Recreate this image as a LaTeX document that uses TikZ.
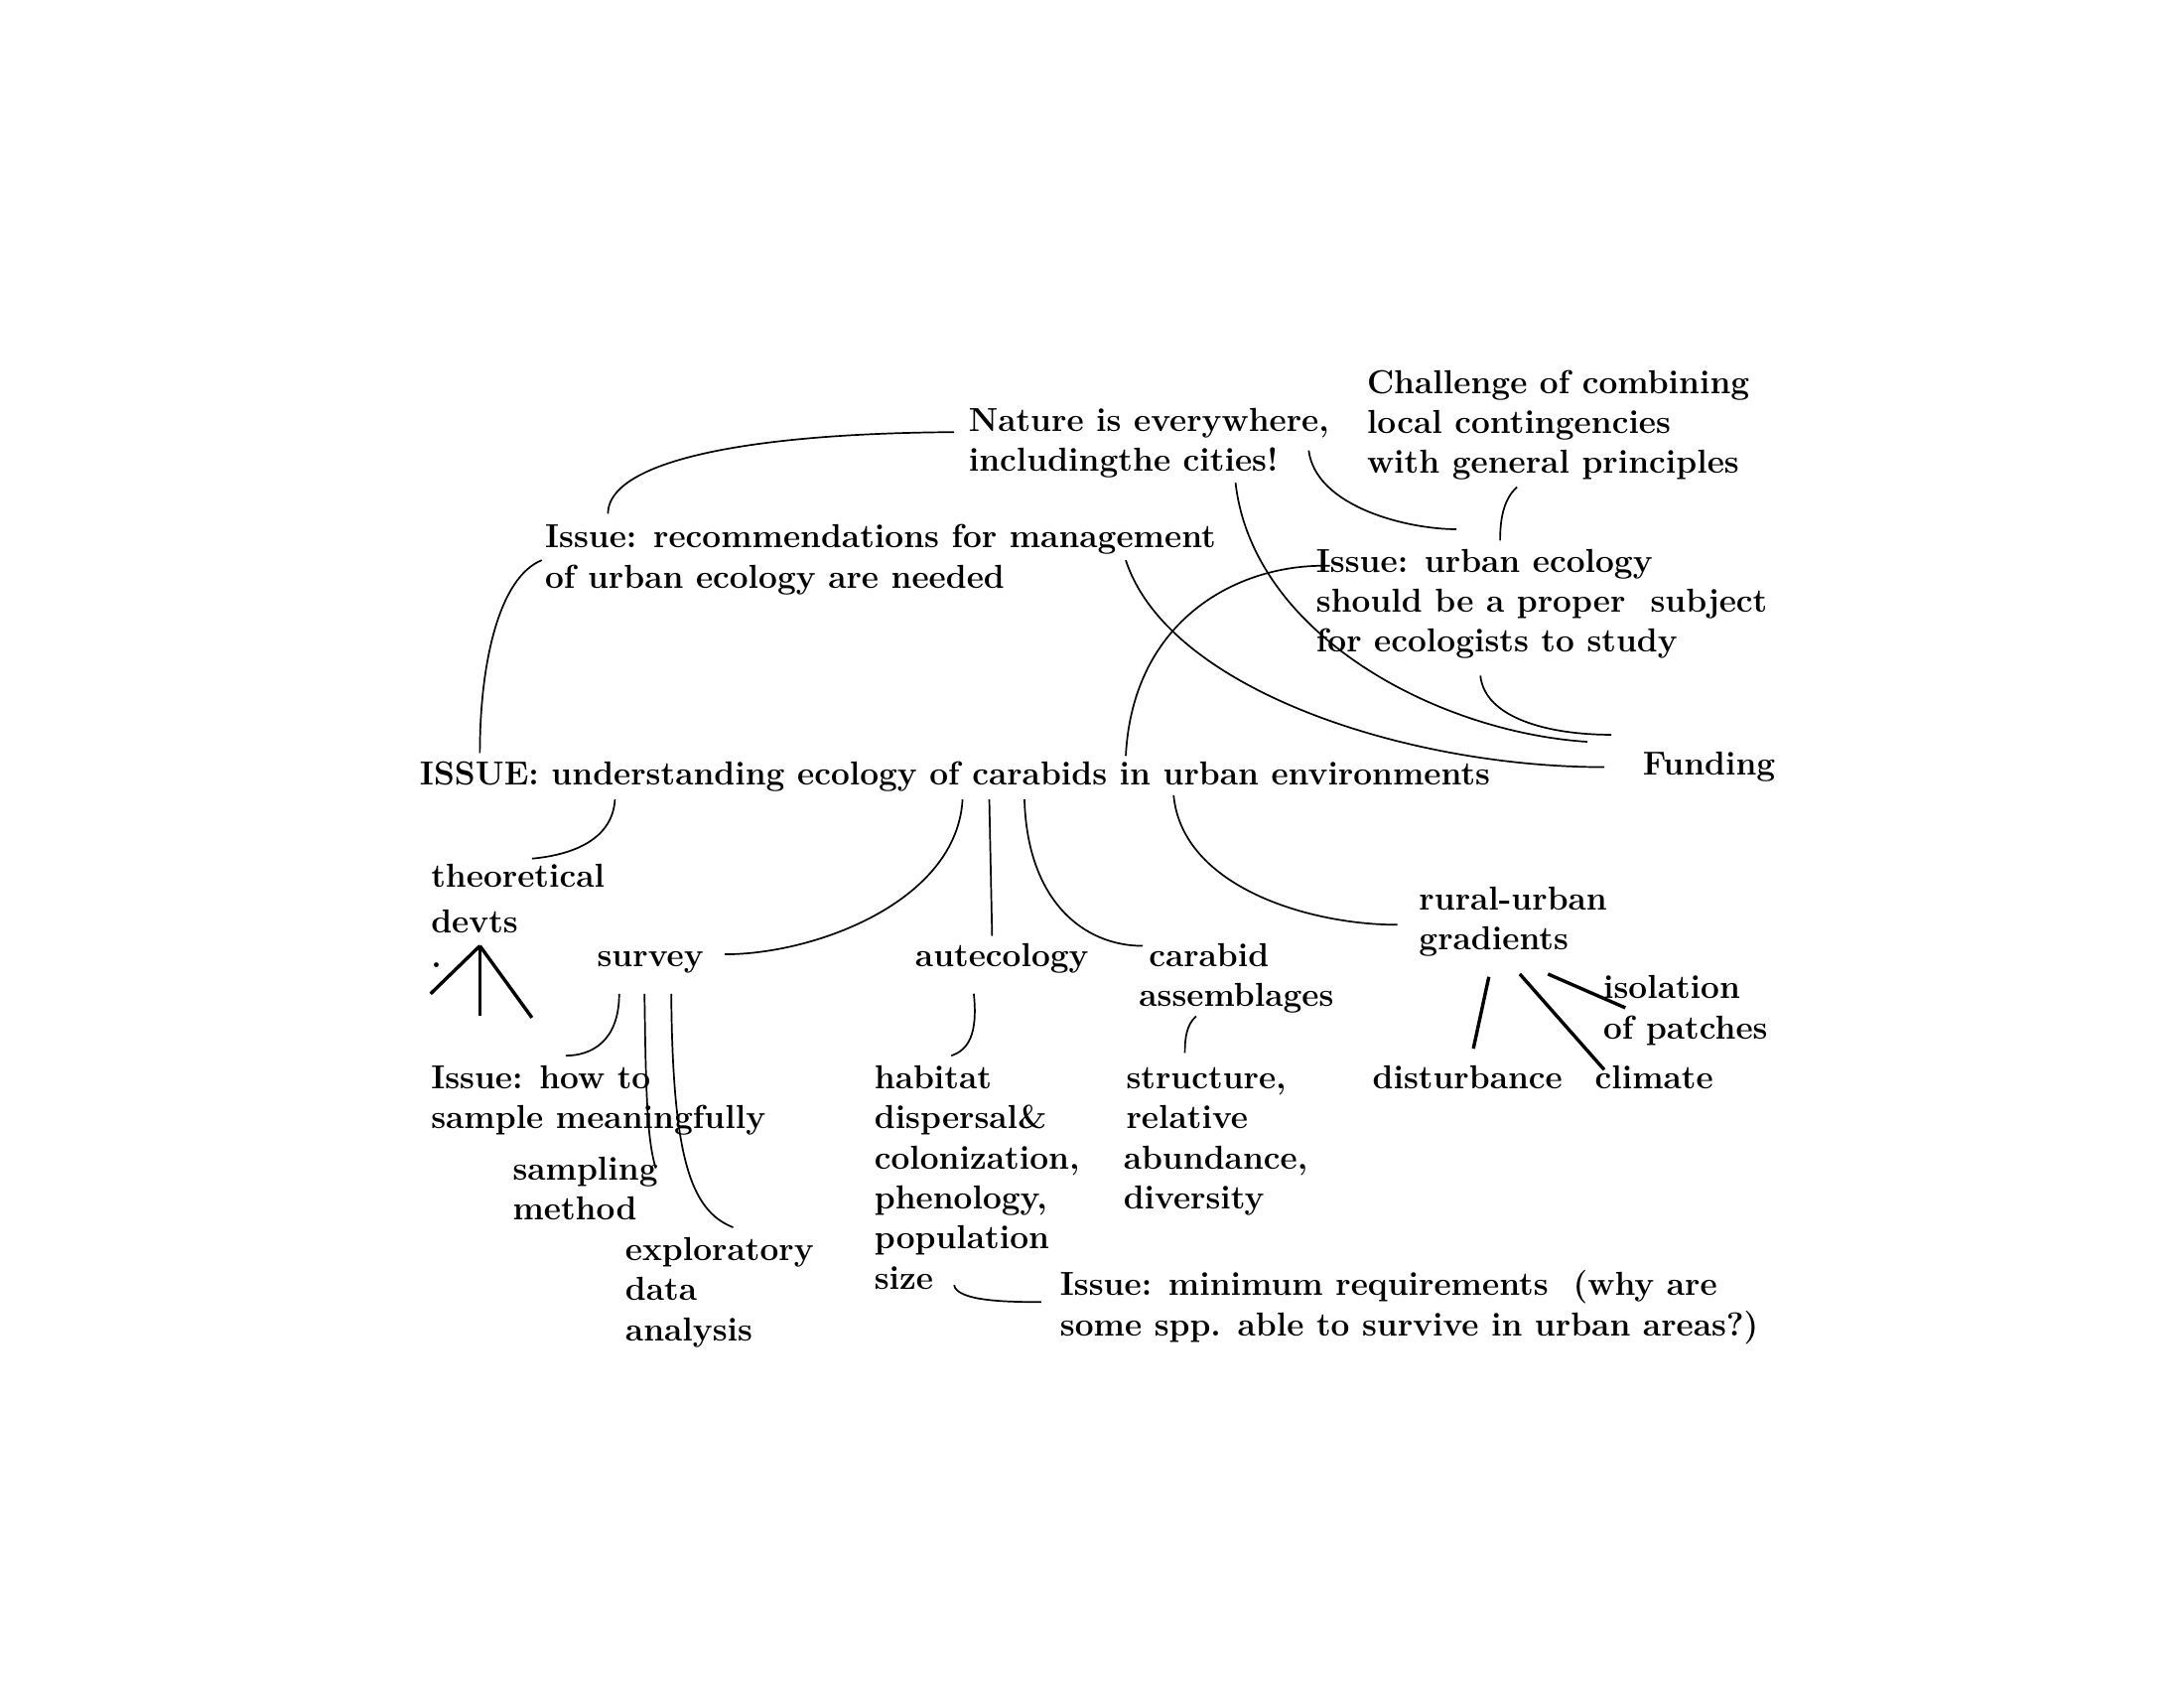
\documentclass[tikz,border=0pt]{standalone}
\begin{document}
\begin{tikzpicture}[x=0.5pt,y=-0.5pt,
  lbl/.style={anchor=north west,yshift=9.975pt,align=left,inner sep=0pt,font=\fontsize{11.8}{14.25}\selectfont\bfseries},
  ln/.style={line width=0.6pt},
  tk/.style={line width=1.2pt}]
\useasboundingbox (0,0) rectangle (1552,1200);
\node[lbl] (nat) at (688,306) {\strut Nature is everywhere,\\includingthe cities!};
\node[lbl] (chal) at (971,279) {\strut Challenge of combining\\local contingencies\\with general principles};
\node[lbl] (rec) at (387,389) {\strut Issue: recommendations for management\\of urban ecology are needed};
\node[lbl] (urb) at (935,406) {\strut Issue: urban ecology\\should be a proper\ \ subject\\for ecologists to study};
\node[lbl] (iss) at (298,557) {\strut ISSUE: understanding ecology of carabids in urban environments};
\node[lbl] (fund) at (1167,550) {\strut Funding};
\node[lbl] (theo) at (306,630) {\strut theoretical\\[2pt]devts\\[-2pt].};
\node[lbl] (surv) at (424,686) {\strut survey};
\node[lbl] (aut) at (650,686) {\strut autecology};
\node[lbl] (carab) at (809,686) {\strut\hspace*{3.5pt}carabid\\assemblages};
\node[lbl] (rur) at (1008,646) {\strut rural-urban\\gradients};
\node[lbl] (iso) at (1139,709) {\strut isolation\\of patches};
\node[lbl] (dist) at (975,773) {\strut disturbance};
\node[lbl] (clim) at (1133,773) {\strut climate};
\node[lbl] (how) at (306,773) {\strut Issue: how to\\sample meaningfully};
\node[lbl] (samp) at (364,838) {\strut sampling\\method};
\node[lbl] (expl) at (444,895) {\strut exploratory\\data\\analysis};
\node[lbl] (hab) at (621,773) {\strut habitat\\dispersal\&\\colonization,\\phenology,\\population\\size};
\node[lbl] (struc) at (798,773) {\strut\hspace*{1pt}structure,\\\hspace*{1pt}relative\\abundance,\\diversity};
\node[lbl] (minr) at (753,920) {\strut Issue: minimum requirements\ \ (why are\\some spp. able to survive in urban areas?)};
% connectors
\draw[ln] (678,307) .. controls (520,308) and (432,330) .. (432,365);
\draw[ln] (385,398) .. controls (355,410) and (341,470) .. (341,535);
\draw[ln] (930,320) .. controls (935,360) and (1000,376) .. (1035,376);
\draw[ln] (1078,346) .. controls (1068,355) and (1066,370) .. (1066,384);
\draw[ln] (878,343) .. controls (890,450) and (1020,520) .. (1128,527);
\draw[ln] (800,398) .. controls (830,490) and (1000,545) .. (1140,545);
\draw[ln] (800,537) .. controls (805,440) and (880,400) .. (945,402);
\draw[ln] (1052,480) .. controls (1055,510) and (1100,522) .. (1145,522);
\draw[ln] (437,568) .. controls (435,600) and (400,608) .. (378,610);
\draw[ln] (684,568) .. controls (680,640) and (580,678) .. (515,678);
\draw[ln] (703,568) -- (705,665);
\draw[ln] (728,568) .. controls (730,640) and (770,672) .. (812,672);
\draw[ln] (834,565) .. controls (840,630) and (930,657) .. (993,657);
\draw[tk] (341,672) -- (306,706);
\draw[tk] (341,672) -- (341,722);
\draw[tk] (341,672) -- (378,723);
\draw[ln] (440,706) .. controls (440,740) and (420,750) .. (402,750);
\draw[ln] (458,706) .. controls (459,780) and (460,810) .. (466,830);
\draw[ln] (477,706) .. controls (478,820) and (490,860) .. (521,872);
\draw[ln] (692,706) .. controls (695,735) and (688,746) .. (676,750);
\draw[ln] (850,722) .. controls (843,728) and (842,738) .. (842,748);
\draw[tk] (1058,694) -- (1047,745);
\draw[tk] (1080,692) -- (1140,760);
\draw[tk] (1100,692) -- (1155,716);
\draw[ln] (678,913) .. controls (680,925) and (720,925) .. (740,925);
\end{tikzpicture}
\end{document}
